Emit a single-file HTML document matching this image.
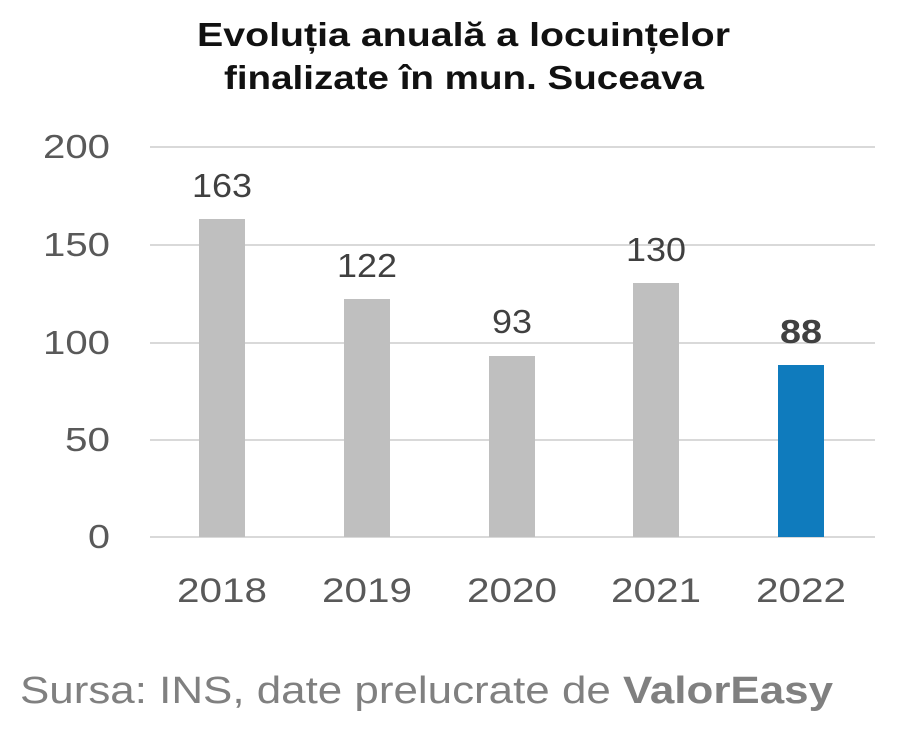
<!DOCTYPE html>
<html><head><meta charset="utf-8"><style>
html,body{margin:0;padding:0;background:#fff;}
body{width:905px;height:730px;position:relative;overflow:hidden;font-family:"Liberation Sans",sans-serif;}
</style></head><body>
<svg width="905" height="730" xmlns="http://www.w3.org/2000/svg" style="position:absolute;left:0;top:0">
<g font-family="Liberation Sans, sans-serif">
<text x="197" y="46" textLength="533" lengthAdjust="spacingAndGlyphs" font-size="33" font-weight="bold" fill="#111">Evoluția anuală a locuințelor</text>
<text x="224" y="89" textLength="480" lengthAdjust="spacingAndGlyphs" font-size="33" font-weight="bold" fill="#111">finalizate în mun. Suceava</text>
<g stroke="#d9d9d9" stroke-width="2">
<line x1="150" y1="147" x2="875" y2="147"/>
<line x1="150" y1="245" x2="875" y2="245"/>
<line x1="150" y1="343" x2="875" y2="343"/>
<line x1="150" y1="440" x2="875" y2="440"/>
<line x1="150" y1="537" x2="875" y2="537"/>
</g>
<g font-size="33" fill="#595959">
<text x="43" y="158" textLength="67" lengthAdjust="spacingAndGlyphs">200</text>
<text x="43" y="256" textLength="67" lengthAdjust="spacingAndGlyphs">150</text>
<text x="43" y="354" textLength="67" lengthAdjust="spacingAndGlyphs">100</text>
<text x="65" y="451" textLength="45" lengthAdjust="spacingAndGlyphs">50</text>
<text x="88" y="548" textLength="22" lengthAdjust="spacingAndGlyphs">0</text>
</g>
<rect x="199" y="219" width="46" height="318" fill="#bfbfbf"/>
<rect x="344" y="299" width="46" height="238" fill="#bfbfbf"/>
<rect x="489" y="356" width="46" height="181" fill="#bfbfbf"/>
<rect x="633" y="283" width="46" height="254" fill="#bfbfbf"/>
<rect x="778" y="365" width="46" height="172" fill="#0f7bbd"/>
<g font-size="33" fill="#404040">
<text x="192" y="197" textLength="60" lengthAdjust="spacingAndGlyphs">163</text>
<text x="337" y="277" textLength="60" lengthAdjust="spacingAndGlyphs">122</text>
<text x="492" y="333" textLength="40" lengthAdjust="spacingAndGlyphs">93</text>
<text x="626" y="261" textLength="60" lengthAdjust="spacingAndGlyphs">130</text>
<text x="780" y="343" textLength="42" lengthAdjust="spacingAndGlyphs" font-weight="bold">88</text>
</g>
<g font-size="34" fill="#595959">
<text x="177" y="602" textLength="90" lengthAdjust="spacingAndGlyphs">2018</text>
<text x="322" y="602" textLength="90" lengthAdjust="spacingAndGlyphs">2019</text>
<text x="467" y="602" textLength="90" lengthAdjust="spacingAndGlyphs">2020</text>
<text x="611" y="602" textLength="90" lengthAdjust="spacingAndGlyphs">2021</text>
<text x="756" y="602" textLength="90" lengthAdjust="spacingAndGlyphs">2022</text>
</g>
<text x="20" y="703" font-size="38" fill="#808080" textLength="813" lengthAdjust="spacingAndGlyphs">Sursa: INS, date prelucrate de <tspan font-weight="bold">ValorEasy</tspan></text>
</g>
</svg>
</body></html>
